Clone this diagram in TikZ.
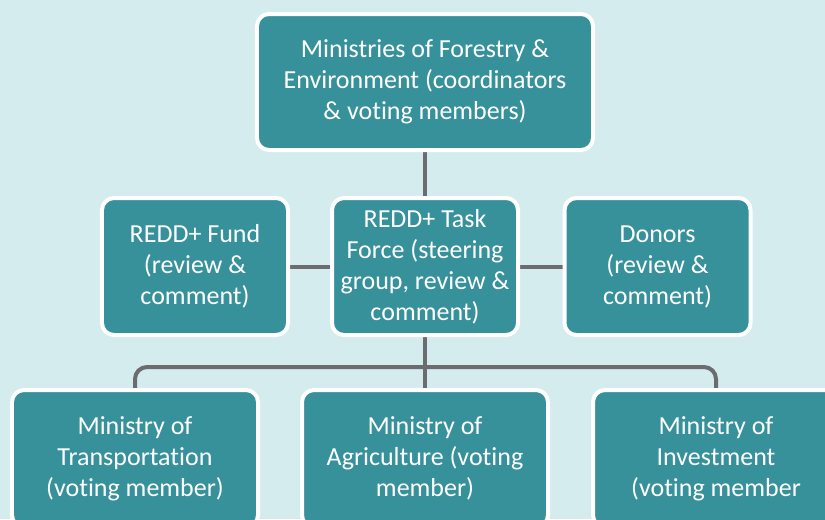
\documentclass[tikz,border=0pt]{standalone}
\usepackage{fontspec}
\setmainfont[Ligatures=NoCommon]{Carlito}
\usetikzlibrary{backgrounds}
\definecolor{bgcyan}{HTML}{D4ECED}
\definecolor{boxteal}{HTML}{37919B}
\definecolor{linkgray}{HTML}{6B6B70}
\begin{document}
\begin{tikzpicture}[x=0.03cm,y=-0.03cm,
		unit/.style={draw=white, fill=boxteal, line width=0.12cm, rounded corners=0.36cm,
			text=white, align=center, inner sep=0pt,
			font=\fontsize{22.2}{26.5}\selectfont},
		topunit/.style={unit, minimum width=10.08cm, minimum height=4.08cm},
		midunit/.style={unit, minimum width=5.58cm, minimum height=4.11cm},
		lowunit/.style={unit, minimum width=7.38cm, minimum height=4.11cm},
		link/.style={draw=linkgray, line width=0.12cm}]
	\useasboundingbox (0,0) rectangle (825,519);
	% coordinators
	\node[topunit] (forestry) at (425,82) {Ministries of Forestry \&\\ Environment (coordinators\\ \& voting members)};
	% review row
	\node[midunit] (fund) at (195,266.5) {REDD+ Fund\\ (review \&\\ comment)};
	\node[midunit] (taskforce) at (425,266.5) {REDD+ Task\\ Force (steering\\ group, review \&\\ comment)};
	\node[midunit] (donors) at (657.5,266.5) {Donors\\ (review \&\\ comment)};
	% voting ministries
	\node[lowunit] (transport) at (135,458.5) {Ministry of\\ Transportation\\ (voting member)};
	\node[lowunit] (agri) at (425,458.5) {Ministry of\\ Agriculture (voting\\ member)};
	\node[lowunit] (invest) at (716,458.5) {Ministry of\\ Investment\\ (voting member};
	\begin{scope}[on background layer]
		\fill[bgcyan] (0,0) rectangle (825,519);
		\draw[link] (forestry) -- (taskforce);
		\draw[link] (fund) -- (taskforce);
		\draw[link] (taskforce) -- (donors);
		\draw[link] (taskforce) -- (agri);
		\draw[link, rounded corners=0.36cm] (transport.north) -- ++(0,-21) -| (invest.north);
	\end{scope}
\end{tikzpicture}
\end{document}
